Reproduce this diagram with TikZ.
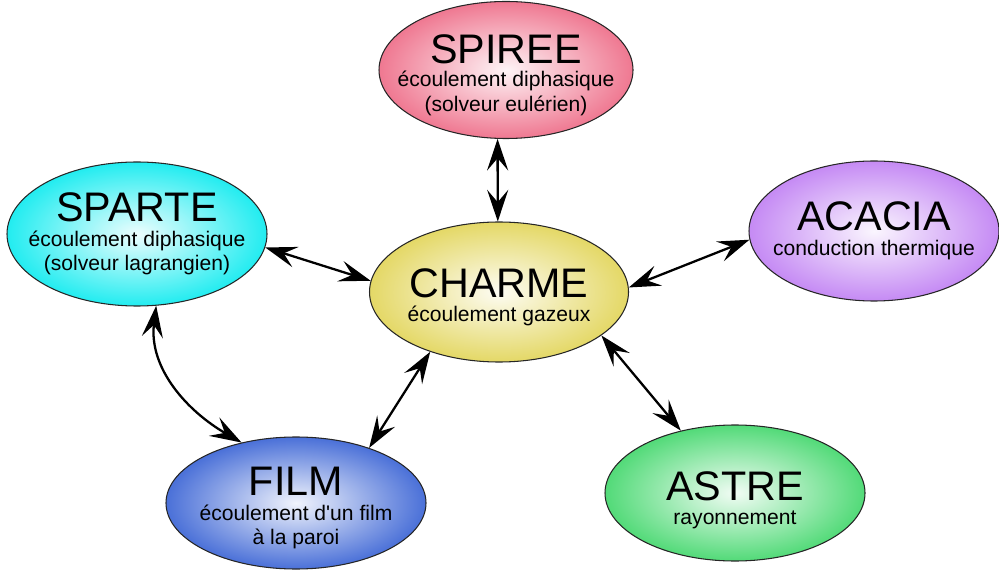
\documentclass[tikz,border=0pt]{standalone}
\usepackage{fontspec}
\setmainfont{Liberation Sans}[Ligatures=TeXOff]
\usepackage{tikz}
\usetikzlibrary{arrows.meta,shapes.geometric,positioning}
\definecolor{SpireePink}{HTML}{EF7891}
\definecolor{SparteCyan}{HTML}{22ECF0}
\definecolor{CharmeYellow}{HTML}{E4D866}
\definecolor{AcaciaLilac}{HTML}{C58AF4}
\definecolor{FilmBlue}{HTML}{4A70D8}
\definecolor{AstreGreen}{HTML}{52DA78}
\tikzset{
  bulle/.style={ellipse, draw=black!85, line width=0.6pt, inner sep=0pt},
  texte/.style={align=center, font=\fontsize{12}{14}\selectfont, inner sep=0pt},
  lien/.style={{Stealth[length=18pt,width=12pt,inset=7pt]}-{Stealth[length=18pt,width=12pt,inset=7pt]}, line width=1.3pt}
}
\newcommand{\titre}[1]{{\fontsize{23.5}{24}\selectfont #1}}

\begin{document}
\begin{tikzpicture}
  \useasboundingbox (0,0) rectangle (19.98,11.4);
  \foreach \nom/\x/\y/\w/\h/\col/\dy/\gap/\lab/\sous in {
    spiree/10.12/10.00/5.08/2.74/SpireePink/-0.1/-0.5pt/SPIREE/{écoulement diphasique\\(solveur eulérien)},
    sparte/2.74/6.72/5.2/2.88/SparteCyan/0/0pt/SPARTE/{écoulement diphasique\\(solveur lagrangien)},
    charme/9.98/5.56/5.18/2.8/CharmeYellow/-0.1/-0.5pt/CHARME/{écoulement gazeux},
    acacia/17.48/6.78/5.0/2.8/AcaciaLilac/0/0pt/ACACIA/{conduction thermique},
    film/5.92/1.34/5.2/2.64/FilmBlue/-0.1/0pt/FILM/{écoulement d'un film\\à la paroi},
    astre/14.70/1.54/5.2/2.72/AstreGreen/-0.14/-0.5pt/ASTRE/{rayonnement}} {
    \node[bulle, minimum width=\w cm, minimum height=\h cm, inner color=\col!8!white, outer color=\col] (\nom) at (\x,\y) {};
    \node[texte] (\nom-texte) at ([yshift=\dy cm]\nom) {\titre{\lab}\\[\gap]\sous};
  }
  \draw[lien] (spiree.-97) -- (charme.91);
  \draw[lien] (sparte.-6) -- (charme.175);
  \draw[lien] (charme.2) -- (acacia.184);
  \draw[lien] (charme.-23) -- (astre.131);
  \draw[lien] (charme.221) -- (film.37);
  \draw[lien] (sparte.-75) to[out=-97,in=150] (film.132);
\end{tikzpicture}
\end{document}
